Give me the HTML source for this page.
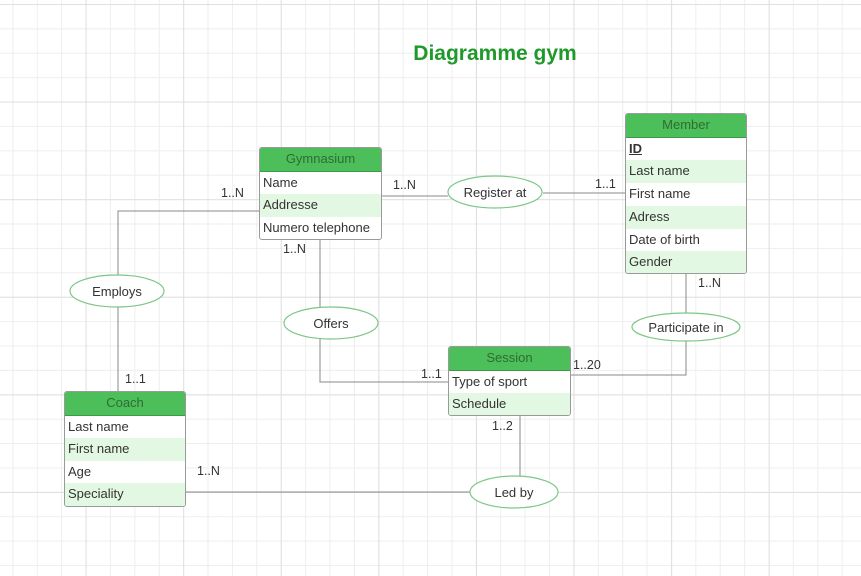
<!DOCTYPE html>
<html><head><meta charset="utf-8"><style>
body{margin:0;width:861px;height:576px;overflow:hidden;background:#fff;font-family:"Liberation Sans",sans-serif;}
.grid{position:absolute;left:0;top:0;width:861px;height:576px;
background-image:linear-gradient(#e0e0e0 1px,transparent 1px),linear-gradient(90deg,#e0e0e0 1px,transparent 1px),linear-gradient(#eeeeee 1px,transparent 1px),linear-gradient(90deg,#eeeeee 1px,transparent 1px);
background-size:97.6px 97.6px,97.6px 97.6px,24.4px 24.4px,24.4px 24.4px;background-position:-1px 4px,-12px 0,-1px 4px,-12px 0;}
.t{position:absolute;border:1px solid #9a9a9a;border-radius:3px;background:#fff;overflow:hidden;font-size:13px;color:#333;}
.h{background:#4dbf5a;color:#2f6b35;text-align:center;border-bottom:1px solid #3a9a45;}
.r{padding-left:3px;}
.g{background:#e2f8e2;}
.l{position:absolute;font-size:12.5px;color:#333;}
</style></head><body>
<div class="grid"></div>
<svg width="861" height="576" style="position:absolute;left:0;top:0">
<g stroke="#888" stroke-width="1" fill="none">
<path d="M381 196H448M543 193H625"/>
<path d="M259 211H118V275M118 307V391"/>
<path d="M320 239V307M320 339V382H448"/>
<path d="M686 273V313M686 341V375H570"/>
<path d="M520 415V476M185 492H470"/>
</g>
<g stroke="#7cc787" stroke-width="1.2" fill="#fff">
<ellipse cx="495" cy="192" rx="47" ry="16"/>
<ellipse cx="117" cy="291" rx="47" ry="16"/>
<ellipse cx="331" cy="323" rx="47" ry="16"/>
<ellipse cx="686" cy="327" rx="54" ry="14"/>
<ellipse cx="514" cy="492" rx="44" ry="16"/>
</g>
<g font-family="Liberation Sans" font-size="13" fill="#333" text-anchor="middle">
<text x="495" y="197">Register at</text>
<text x="117" y="296">Employs</text>
<text x="331" y="328">Offers</text>
<text x="686" y="332">Participate in</text>
<text x="514" y="497">Led by</text>
</g>
<text x="495" y="60" text-anchor="middle" font-family="Liberation Sans" font-weight="bold" font-size="21" fill="#1f9a2a">Diagramme gym</text>
</svg>
<div class="t" style="left:259px;top:147px;width:121px;height:91px;line-height:22.7px"><div class="h">Gymnasium</div><div class="r">Name</div><div class="r g">Addresse</div><div class="r">Numero telephone</div></div>
<div class="t" style="left:625px;top:113px;width:120px;height:159px;line-height:22.7px"><div class="h">Member</div><div class="r"><b><u>ID</u></b></div><div class="r g">Last name</div><div class="r">First name</div><div class="r g">Adress</div><div class="r">Date of birth</div><div class="r g">Gender</div></div>
<div class="t" style="left:448px;top:346px;width:121px;height:68px;line-height:22.7px"><div class="h">Session</div><div class="r">Type of sport</div><div class="r g">Schedule</div></div>
<div class="t" style="left:64px;top:391px;width:120px;height:114px;line-height:22.6px"><div class="h">Coach</div><div class="r">Last name</div><div class="r g">First name</div><div class="r">Age</div><div class="r g">Speciality</div></div>
<div class="l" style="left:221px;top:186px">1..N</div>
<div class="l" style="left:393px;top:178px">1..N</div>
<div class="l" style="left:595px;top:177px">1..1</div>
<div class="l" style="left:283px;top:242px">1..N</div>
<div class="l" style="left:698px;top:276px">1..N</div>
<div class="l" style="left:125px;top:372px">1..1</div>
<div class="l" style="left:421px;top:367px">1..1</div>
<div class="l" style="left:573px;top:358px">1..20</div>
<div class="l" style="left:492px;top:419px">1..2</div>
<div class="l" style="left:197px;top:464px">1..N</div>
</body></html>
